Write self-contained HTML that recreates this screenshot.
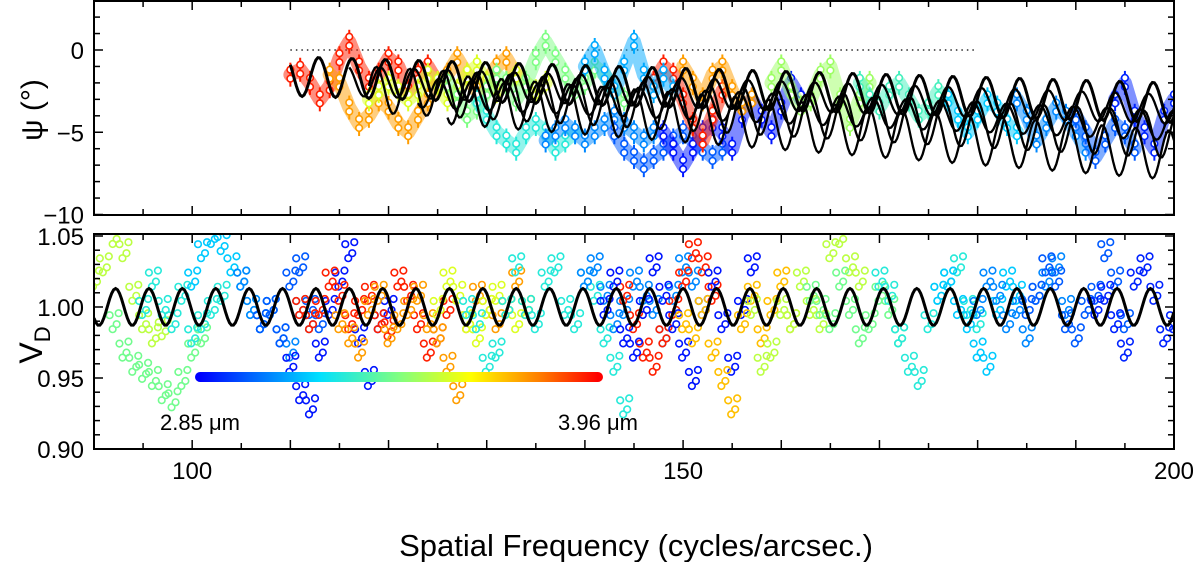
<!DOCTYPE html>
<html><head><meta charset="utf-8"><style>
body{margin:0;background:#fff;}
svg{display:block;font-family:"Liberation Sans",sans-serif;}
</style></head><body>
<svg id="chart" width="1200" height="562" viewBox="0 0 1200 562" xmlns="http://www.w3.org/2000/svg">
<defs>
<clipPath id="clipTop"><rect x="95" y="2" width="1079" height="212"/></clipPath>
<clipPath id="clipBot"><rect x="95" y="235" width="1079" height="213"/></clipPath>
<linearGradient id="jetGrad" gradientUnits="userSpaceOnUse" x1="200" x2="598" y1="377" y2="377">
<stop offset="0" stop-color="#0000ff"/><stop offset="0.125" stop-color="#0060ff"/><stop offset="0.3" stop-color="#00e0ff"/><stop offset="0.5" stop-color="#80ff80"/><stop offset="0.68" stop-color="#ffff00"/><stop offset="0.85" stop-color="#ff8000"/><stop offset="1" stop-color="#ff0000"/>
</linearGradient>
</defs>
<g id="topMarks" clip-path="url(#clipTop)"></g>
<g id="botMarks" clip-path="url(#clipBot)"></g>
<g id="axes"></g>
<line x1="200" y1="377" x2="598" y2="377" stroke="url(#jetGrad)" stroke-width="10" stroke-linecap="round"/>
<text x="200" y="430" font-size="22" text-anchor="middle">2.85 μm</text>
<text x="598" y="430" font-size="22" text-anchor="middle">3.96 μm</text>
<text x="636" y="556" font-size="31" text-anchor="middle">Spatial Frequency (cycles/arcsec.)</text>
<text transform="translate(42,110) rotate(-90)" font-size="30" text-anchor="middle">ψ (°)</text>
<text transform="translate(42,345) rotate(-90)" font-size="32" text-anchor="middle">V<tspan font-size="22" dy="8">D</tspan></text>
</svg>
<script>
// ---- data ----
const psiWavelengths=[3.92,3.75,3.55,3.4,3.25,3.05,2.98,2.88,3.92,3.75,3.1,3.45,3.3,3.15,3.05,2.98,2.9];
const psiStarts=[110,114,118,126,129,136,143,148,147,150,140,159,168,177,184,190,194];
const psiValues=[
[-1.5,-1.2,-2,-3,-2.2,-0.5,0.5,-1,-2,-1.5,-0.5,-1,-2.5,-1.5,-1,-2],
[-1.5,-2,-3.5,-4.5,-4,-3,-3.5,-4.5,-5,-4,-3,-2,-1.5,-0.5,-1.5,-2.5,-2,-1,-0.5,-1.5],
[-3,-2.5,-2,-2.5,-3,-2.5,-1.5,-2,-3,-2.5,-1.5,-1,-2,-2.5,-2,-1.5,-2,-2.5,-2],
[-2,-3,-4,-3.5,-2.5,-1.5,-2,-3,-2,-0.5,0.5,-0.5,-1.5,-2.5,-2,-1,-1.5,-2.5,-3],
[-3,-4,-5,-5.5,-6,-5,-4.5,-5,-6,-5.5,-5],
[-5.5,-5,-4.5,-5,-5.5,-5,-4.5,-4,-4.5,-5,-5.5,-5],
[-5,-6,-6.5,-7,-6.5,-6,-5.5,-5,-5.5,-6,-6.5,-6],
[-5,-6,-7,-6,-5,-4.5,-5,-6,-4,-3,-4,-5,-3.5,-2,-3],
[-2,-1,-1.5,-3,-4.5,-5.5,-4,-2.5],
[-1,-2,-3,-1.5,-1,-2.5,-3.5,-3],
[-1,0,-1.5,-2.5,-1,0.5,-1.5,-2.5,-1.5,-2.5],
[-2,-1,-2.5,-3.5,-3,-1.5,-1,-3,-4.5,-3,-2],
[-2,-3,-3.5,-2.5,-2,-3,-4,-3.5,-2.5,-3],
[-3,-4,-5,-4,-3,-3.5,-4.5,-5],
[-3,-4,-5.5,-4.5,-3.5,-4,-5,-6],
[-4,-5,-6.5,-5.5,-4.5,-5,-6],
[-3,-2,-4,-5,-6,-4,-3]
];
const vdWavelengths=[3.5,3.38,3.25,3.15,3.05,2.98,2.88,3.92,3.75,3.55,3.25,3.05,3.92,2.88,3.7,3.5,3.38,3.25,3.15,3.05,2.98,2.9];
const vdStarts=[90,92,95,100,105,107,110,111,115,125,128,140,144,142,150,157,163,170,176,180,185,192];
const vdValues=[
[1.02,1.03,1.05,1.04,1.01,0.99,0.98,0.985],
[0.99,0.97,0.96,0.955,0.95,0.94,0.935,0.95,0.97,0.98],
[1.0,1.02,1.0,0.99,1.01,0.98,0.99,1.0,1.01],
[1.02,1.04,1.05,1.045,1.03,1.02,1.0,0.99,1.0],
[1.02,1.0,0.99,1.0,0.98,0.97,1.0,0.99],
[0.99,1.0,0.98,1.02,1.03,1.0,0.99],
[0.96,0.94,0.93,0.97,1.0,1.02,1.04,0.98,0.95,0.99,1.0],
[1.0,0.99,1.0,1.02,1.01,0.99,1.0,1.01,0.99,0.985,1.02,1.01,0.99,0.97,0.98,1.0],
[0.99,0.98,0.97,1.0,1.01,0.98,0.99,1.0,1.01,0.99,0.98,0.96,0.94,0.99,1.01,1.0,0.99,1.0,1.02,1.0],
[1.0,1.02,1.01,0.99,0.98,1.0,1.01,1.0,0.99,1.0],
[1.0,0.99,0.96,0.97,1.0,1.03,1.0,0.99,1.02,1.03,1.0,0.99,1.02,1.01,0.98,0.96,0.93],
[1.02,1.03,1.01,0.99,1.0,1.02,1.01,1.0,0.98,1.01,1.03,1.02],
[1.01,0.99,0.97,0.96,0.98,1.0,1.02,1.04,1.03,1.01],
[1.0,1.02,0.98,0.97,1.0,1.03,1.01,0.99,0.97,0.95,1.0,1.02,0.99,0.96,1.0,1.03],
[0.99,0.98,1.0,0.97,0.95,0.93,0.99,1.01,0.98,1.0,1.02,0.99],
[1.0,0.96,0.97,1.0,0.99,1.02,1.0,0.99,1.04,1.05,1.03,1.02],
[1.01,1.0,0.99,1.02,1.0,0.98,0.99,1.01,1.0,0.98],
[1.02,1.01,0.98,0.96,0.95,0.99,1.01,1.02,1.03,1.0,0.99],
[1.01,1.02,1.0,0.99,0.97,0.96,1.0,1.02,1.01],
[1.0,1.02,1.01,0.99,1.0,0.98,1.01,1.02,1.03,1.0],
[1.0,1.01,1.03,1.02,0.99,0.98,1.0,1.01,1.04,1.02,0.99],
[1.0,1.01,0.99,0.97,1.02,1.03,1.01,0.98,0.99]
];
const psiModelStart=[110,116,118,123,126];
const psiModelEnd=[200,200,200,200,200];
const psiModelBase0=[-1.6,-1.9,-2.4,-2.6,-3.0];
const psiModelBase1=[-3.2,-3.6,-5.2,-4.6,-6.4];
const psiModelAmp=[1.2,0.9,1.4,0.9,1.5];
const psiModelPhase=[0.3,1.2,2.0,2.8,3.6];
const vdModelMean=[1.0];
const vdModelAmp=[0.013];
const modelPeriod=[3.4];
const xTicks=[100,150,200];
const psiTicks=[0,-5,-10];
const vdTicks=[0.90,0.95,1.00,1.05];

// ---- axes functions ----
const X=v=>94+(v-90)*(1174-94)/110;
const YT=v=>50+(-v)*16.45;
const YB=v=>307-(v-1)*1420;
const NS="http://www.w3.org/2000/svg";
function mk(tag,attrs,parent){const e=document.createElementNS(NS,tag);for(const k in attrs)e.setAttribute(k,attrs[k]);parent.appendChild(e);return e;}
const jetStops=[[0,[0,0,255]],[0.125,[0,96,255]],[0.3,[0,224,255]],[0.5,[128,255,128]],[0.68,[255,255,0]],[0.85,[255,128,0]],[1,[255,0,0]]];
function jet(w){let t=(w-2.85)/(3.96-2.85);t=Math.max(0,Math.min(1,t));
 for(let i=1;i<jetStops.length;i++){if(t<=jetStops[i][0]){const a=jetStops[i-1],b=jetStops[i],f=(t-a[0])/(b[0]-a[0]);
  const c=a[1].map((v,k)=>Math.round(v+(b[1][k]-v)*f));return `rgb(${c[0]},${c[1]},${c[2]})`;}}
 return 'rgb(255,0,0)';}
const topG=document.getElementById('topMarks'),botG=document.getElementById('botMarks'),ax=document.getElementById('axes');

const zl=mk('line',{x1:X(110),x2:X(180),y1:YT(0),y2:YT(0),stroke:'#000','stroke-width':1.3,'stroke-dasharray':'1.5,4'},topG);



psiValues.forEach((arr,i)=>{
 const c=jet(psiWavelengths[i]);
 const g=mk('g',{},topG);
 
 
 const pts=arr.map((v,j)=>X(psiStarts[i]+j)+','+YT(v)).join(' ');
 mk('polyline',{points:pts,fill:'none',stroke:c,'stroke-width':14,'stroke-linejoin':'round','stroke-linecap':'round',opacity:0.5},g);
 arr.forEach((v,j)=>{
  const x=X(psiStarts[i]+j),y=YT(v);
  mk('line',{x1:x,x2:x,y1:y-12,y2:y+12,stroke:c,'stroke-width':2},g);
  mk('circle',{cx:x,cy:y-5,r:3.3,fill:'#fff',stroke:c,'stroke-width':1.6},g);
  const p=mk('circle',{cx:x,cy:y+4,r:3.3,fill:'#fff',stroke:c,'stroke-width':1.6},g);
  
  
 });
});
psiModelStart.forEach((s,i)=>{
 const pts=[];
 for(let x=s;x<=psiModelEnd[i];x+=0.2){const f=(x-s)/(psiModelEnd[i]-s);
  const b=psiModelBase0[i]+(psiModelBase1[i]-psiModelBase0[i])*f;
  pts.push(X(x)+','+YT(b+psiModelAmp[i]*Math.sin(2*Math.PI*x/modelPeriod[0]+psiModelPhase[i])));}
 const l=mk('polyline',{points:pts.join(' '),fill:'none',stroke:'#000','stroke-width':i==0?3:2.3},topG);
 
 
});

vdValues.forEach((arr,i)=>{
 const c=jet(vdWavelengths[i]);
 const g=mk('g',{},botG);
 
 
 arr.forEach((v,j)=>{
  const x=X(vdStarts[i]+j),y=YB(v);
  [[-4,-6],[3,3],[-1,8],[5,-8]].forEach(o=>{
   const p=mk('circle',{cx:x+o[0],cy:y+o[1],r:3.3,fill:'none',stroke:c,'stroke-width':1.6},g);
   
   
  });
 });
});
{const pts=[];for(let x=90;x<=200;x+=0.2)pts.push(X(x)+','+YB(vdModelMean[0]+vdModelAmp[0]*Math.sin(2*Math.PI*(x-91.35)/modelPeriod[0])));
 const l=mk('polyline',{points:pts.join(' '),fill:'none',stroke:'#000','stroke-width':3},botG);
 
 }

[[1,215],[234,449]].forEach(([t,b],k)=>{
 const r=mk('rect',{x:94,y:t,width:1080,height:b-t,fill:'none',stroke:'#000','stroke-width':2},ax);
 
 
 for(let v=90;v<=200;v+=5){const x=X(v),L=(v%10==0)?9:6;
  mk('line',{x1:x,x2:x,y1:b,y2:b-L,stroke:'#000','stroke-width':1.5},ax);
  mk('line',{x1:x,x2:x,y1:t,y2:t+L,stroke:'#000','stroke-width':1.5},ax);}
});
for(let v=3;v>=-10;v--){const y=YT(v),L=(v%5==0)?9:6;
 mk('line',{x1:94,x2:94+L,y1:y,y2:y,stroke:'#000','stroke-width':1.5},ax);
 mk('line',{x1:1174,x2:1174-L,y1:y,y2:y,stroke:'#000','stroke-width':1.5},ax);}
for(let k=90;k<=105;k++){const v=k/100,y=YB(v),L=(k%5==0)?9:6;
 mk('line',{x1:94,x2:94+L,y1:y,y2:y,stroke:'#000','stroke-width':1.5},ax);
 mk('line',{x1:1174,x2:1174-L,y1:y,y2:y,stroke:'#000','stroke-width':1.5},ax);}
psiTicks.forEach(v=>{const t=mk('text',{x:84,y:YT(v)+9,'font-size':24,'text-anchor':'end'},ax);t.textContent=(v<0?'−':'')+Math.abs(v);
 
 });
vdTicks.forEach(v=>{const t=mk('text',{x:84,y:YB(v)+9,'font-size':24,'text-anchor':'end'},ax);t.textContent=v.toFixed(2);
 
 });
xTicks.forEach(v=>{const t=mk('text',{x:X(v),y:479,'font-size':24,'text-anchor':'middle'},ax);t.textContent=v;
 
 });
</script>
</body></html>
